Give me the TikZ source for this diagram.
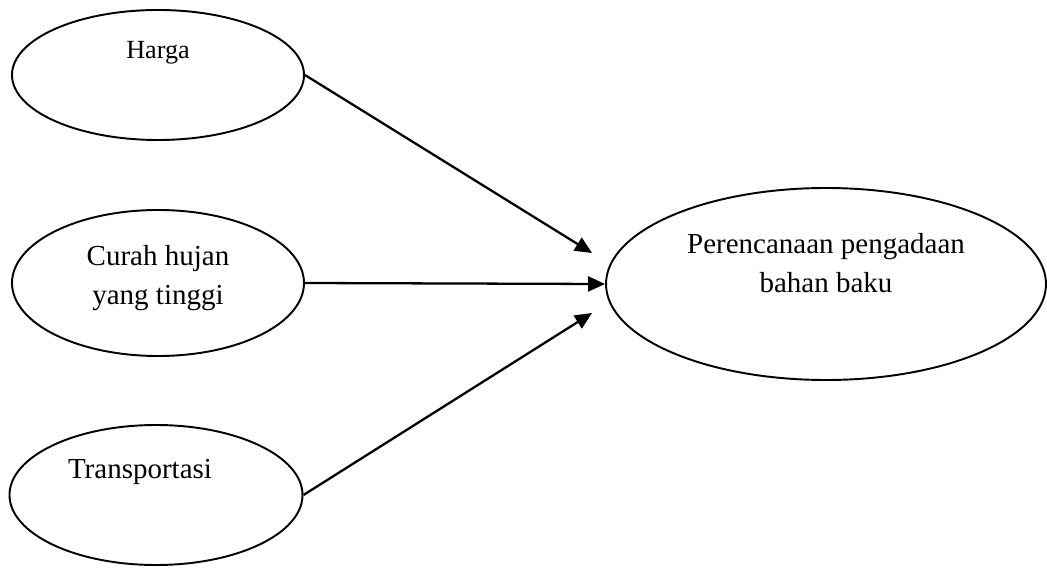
\documentclass[tikz,border=0pt]{standalone}
\usepackage{fontspec}
\setmainfont{Liberation Serif}
\usetikzlibrary{shapes.geometric,arrows.meta}
\begin{document}
\begin{tikzpicture}[line width=1.1pt,
  oval/.style={draw,ellipse,inner sep=0pt},
  txt/.style={align=center,font=\fontsize{16.5}{22}\selectfont},
  every edge/.style={draw,line width=1.3pt,-{Triangle[length=0.34cm,width=0.3cm]}}]
  \useasboundingbox (0,0) rectangle (20.94,11.34);
  \node [oval,minimum width=5.84cm,minimum height=2.60cm] (harga) at (3.16,9.84) {};
  \node [oval,minimum width=5.84cm,minimum height=2.92cm] (curah) at (3.16,5.68) {};
  \node [oval,minimum width=5.86cm,minimum height=2.80cm] (trans) at (3.12,1.44) {};
  \node [oval,minimum width=8.80cm,minimum height=3.84cm] (rencana) at (16.52,5.66) {};
  \node [txt,font=\fontsize{14.9}{20}\selectfont] (hargat) at ([yshift=0.44cm]harga.center) {Harga};
  \node [txt] (curaht) at ([yshift=0.1cm]curah.center) {Curah hujan\\yang tinggi};
  \node [txt] (transt) at ([xshift=-0.32cm,yshift=0.46cm]trans.center) {Transportasi};
  \node [txt] (rencanat) at ([yshift=0.42cm]rencana.center) {Perencanaan pengadaan\\bahan baku};
  \coordinate (tipa) at ([xshift=-0.26cm,yshift=0.62cm]rencana.west);
  \coordinate (tipc) at ([xshift=-0.26cm,yshift=-0.58cm]rencana.west);
  \draw (harga.east) edge (tipa);
  \draw (curah.east) edge (rencana.west);
  \draw (trans.east) edge (tipc);
\end{tikzpicture}
\end{document}
